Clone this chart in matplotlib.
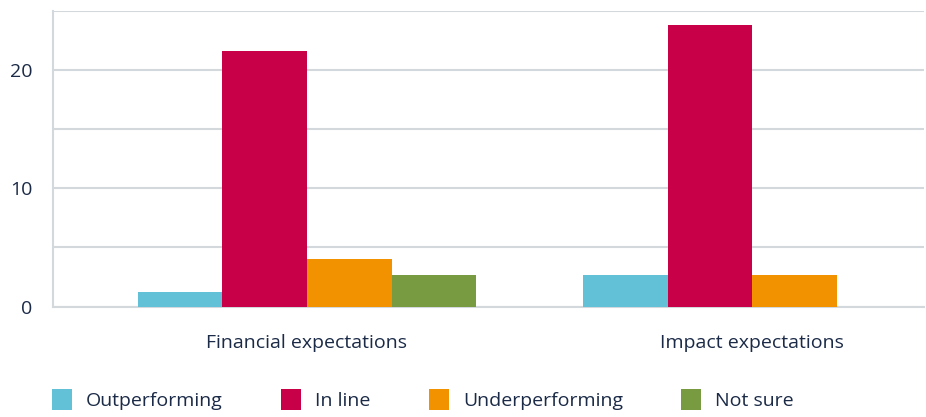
import numpy as np
import matplotlib.pyplot as plt

# survey answers per question
categories = ["Financial expectations", "Impact expectations"]
series_names = ["Outperforming", "In line", "Underperforming", "Not sure"]
outperforming = [1.2, 2.7]
in_line = [21.6, 23.8]
underperforming = [4.0, 2.7]
not_sure = [2.7, 0]
y_ticks = [0, 10, 20]

colors = ["#62c1d6", "#c70048", "#f29200", "#789a40"]
text_color = "#1b2a47"
grid_color = "#d3d8dc"

plt.rcParams["font.family"] = ["Open Sans", "DejaVu Sans"]

fig = plt.figure(figsize=(9.26, 4.17), dpi=100)
ax = fig.add_axes([0.0572, 0.2645, 0.9406, 0.71])

x = np.arange(len(categories))
width = 0.19
series = [outperforming, in_line, underperforming, not_sure]
for i, (name, vals) in enumerate(zip(series_names, series)):
    offset = (i - 1.5) * width
    ax.bar(x + offset, vals, width, color=colors[i], label=name, zorder=3)

ax.set_xlim(-0.57, 1.385)
ax.set_ylim(0, 25)
ax.set_yticks(y_ticks)
ax.set_yticks([5, 15, 25], minor=True)
ax.yaxis.grid(True, which="both", color=grid_color, linewidth=1.5, zorder=0)
ax.tick_params(axis="y", which="both", length=0, pad=15, labelsize=14, labelcolor=text_color)
ax.set_xticks(x)
ax.set_xticklabels(categories)
ax.tick_params(axis="x", length=0, pad=20, labelsize=14, labelcolor=text_color)

for side in ["top", "right"]:
    ax.spines[side].set_visible(False)
for side in ["left", "bottom"]:
    ax.spines[side].set_color(grid_color)
    ax.spines[side].set_linewidth(1.5)

fig.legend(loc="center left", bbox_to_anchor=(52 / 926, 0.042), ncol=4, frameon=False,
           fontsize=14, labelcolor=text_color, handlelength=1.03, handleheight=1.3,
           handletextpad=0.72, columnspacing=3.0, borderaxespad=0, borderpad=0)

fig.savefig("out.png", dpi=100)
